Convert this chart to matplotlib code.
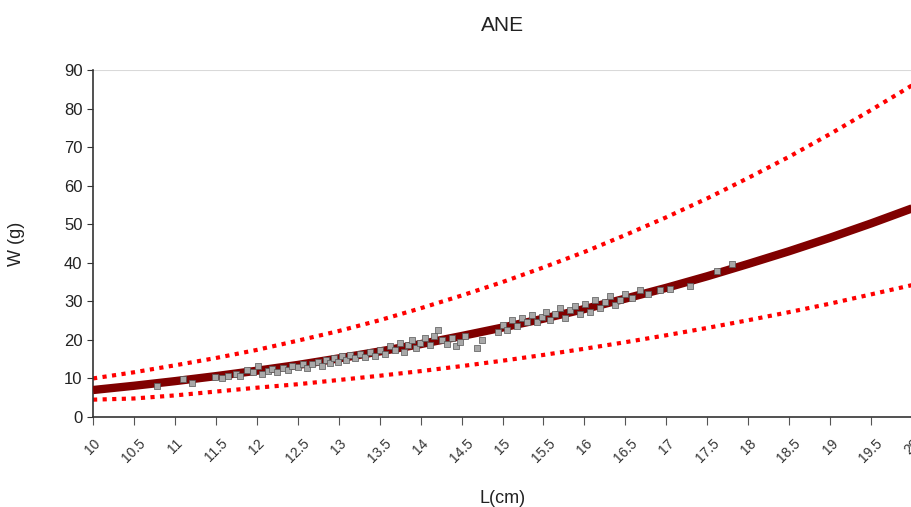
import numpy as np
import matplotlib
matplotlib.use('Agg')
import matplotlib.pyplot as plt

plt.rcParams['font.family'] = ['Liberation Sans Narrow', 'Liberation Sans', 'DejaVu Sans']

# fitted curves, read at every 0.5 cm
L_fit = [10, 10.5, 11, 11.5, 12, 12.5, 13, 13.5, 14, 14.5, 15,
         15.5, 16, 16.5, 17, 17.5, 18, 18.5, 19, 19.5, 20]
W_mean = [7.0, 8.1, 9.3, 10.6, 12.0, 13.5, 15.2, 17.0, 18.9, 21.0, 23.2,
          25.5, 28.0, 30.7, 33.5, 36.5, 39.7, 43.0, 46.5, 50.2, 54.1]
W_upper = [10.0, 11.6, 13.4, 15.3, 17.4, 19.8, 22.3, 25.1, 28.2, 31.5, 35.0,
           38.8, 42.8, 47.2, 51.8, 56.7, 62.0, 67.5, 73.4, 79.6, 86.0]
W_lower = [4.5, 4.8, 5.6, 6.6, 7.6, 8.5, 9.6, 10.7, 11.9, 13.2, 14.6,
           16.1, 17.7, 19.4, 21.2, 23.1, 25.1, 27.2, 29.4, 31.8, 34.2]

# observed fish
L_obs = [10.78, 11.10, 11.21, 11.49, 11.58, 11.65, 11.75, 11.80, 11.88, 11.95,
         12.01, 12.06, 12.14, 12.19, 12.25, 12.32, 12.38, 12.43, 12.50, 12.56,
         12.61, 12.67, 12.75, 12.80, 12.84, 12.89, 12.94, 12.99, 13.04, 13.09,
         13.14, 13.20, 13.26, 13.32, 13.38, 13.44, 13.50, 13.57, 13.63, 13.69,
         13.75, 13.80, 13.85, 13.90, 13.94, 13.99, 14.05, 14.11, 14.16, 14.21,
         14.26, 14.32, 14.38, 14.43, 14.48, 14.54, 14.69, 14.75, 14.95, 15.01,
         15.05, 15.12, 15.18, 15.24, 15.30, 15.36, 15.42, 15.48, 15.53, 15.58,
         15.64, 15.70, 15.76, 15.82, 15.88, 15.95, 16.01, 16.07, 16.13, 16.19,
         16.25, 16.31, 16.37, 16.43, 16.50, 16.58, 16.68, 16.78, 16.92, 17.05,
         17.29, 17.62, 17.80]
W_obs = [8.0, 9.9, 8.8, 10.4, 10.1, 10.6, 11.1, 10.6, 12.2, 11.7,
         13.2, 11.1, 11.9, 12.4, 11.7, 12.7, 12.2, 13.2, 13.0, 13.7,
         12.7, 13.7, 14.3, 13.2, 14.8, 14.0, 15.3, 14.3, 15.8, 14.8,
         16.1, 15.3, 16.3, 15.6, 16.9, 15.8, 17.4, 16.3, 18.4, 17.4,
         19.2, 16.9, 18.7, 20.0, 17.9, 19.2, 20.5, 18.7, 21.0, 22.6,
         20.0, 18.9, 20.5, 18.4, 19.4, 21.0, 17.9, 20.0, 22.0, 23.9,
         22.6, 25.2, 23.6, 25.7, 24.6, 26.5, 24.6, 25.9, 27.2, 25.2,
         26.7, 28.3, 25.7, 27.7, 28.8, 26.7, 29.3, 27.2, 30.3, 28.3,
         29.8, 31.4, 29.0, 30.3, 31.9, 30.9, 32.9, 31.9, 32.9, 33.2,
         34.0, 37.9, 39.7]

xticks = [10, 10.5, 11, 11.5, 12, 12.5, 13, 13.5, 14, 14.5, 15,
          15.5, 16, 16.5, 17, 17.5, 18, 18.5, 19, 19.5, 20]
xtick_labels = ['10', '10.5', '11', '11.5', '12', '12.5', '13', '13.5', '14', '14.5', '15',
                '15.5', '16', '16.5', '17', '17.5', '18', '18.5', '19', '19.5', '20']

fig = plt.figure(figsize=(9.12, 5.07), dpi=100)
ax = fig.add_axes([0.102, 0.1775, 0.898, 0.6845])

ax.plot(L_fit, W_upper, color='#ff0000', lw=3, linestyle=(0, (1, 1.3)), zorder=2)
ax.plot(L_fit, W_lower, color='#ff0000', lw=3, linestyle=(0, (1, 1.3)), zorder=2)
ax.plot(L_fit, W_mean, color='#800000', lw=6, solid_capstyle='butt', zorder=3)
ax.scatter(L_obs, W_obs, s=14, marker='s', color='#a8a8a8',
           edgecolors='#555555', linewidths=0.5, zorder=4)

ax.set_xlim(10, 20)
ax.set_ylim(0, 90)
ax.set_yticks(range(0, 91, 10))
ax.set_xticks(xticks)
ax.set_xticklabels(xtick_labels, rotation=45, ha='center', va='top', fontsize=10, color='#333333')
ax.tick_params(axis='y', labelsize=12, length=4, color='#333333', labelcolor='#222222')
ax.tick_params(axis='x', length=6, color='#555555', pad=8)

ax.axhline(90, color='#d9d9d9', lw=1.5, zorder=1)
for s in ['top', 'right']:
    ax.spines[s].set_visible(False)
for s in ['left', 'bottom']:
    ax.spines[s].set_color('#333333')
    ax.spines[s].set_linewidth(1.2)

ax.set_title('ANE', fontsize=15, color='#222222', pad=28)
ax.set_xlabel('L(cm)', fontsize=13, color='#222222', labelpad=18)
ax.set_ylabel('W (g)', fontsize=13, color='#222222', labelpad=28)

fig.savefig('out.png', dpi=100)
